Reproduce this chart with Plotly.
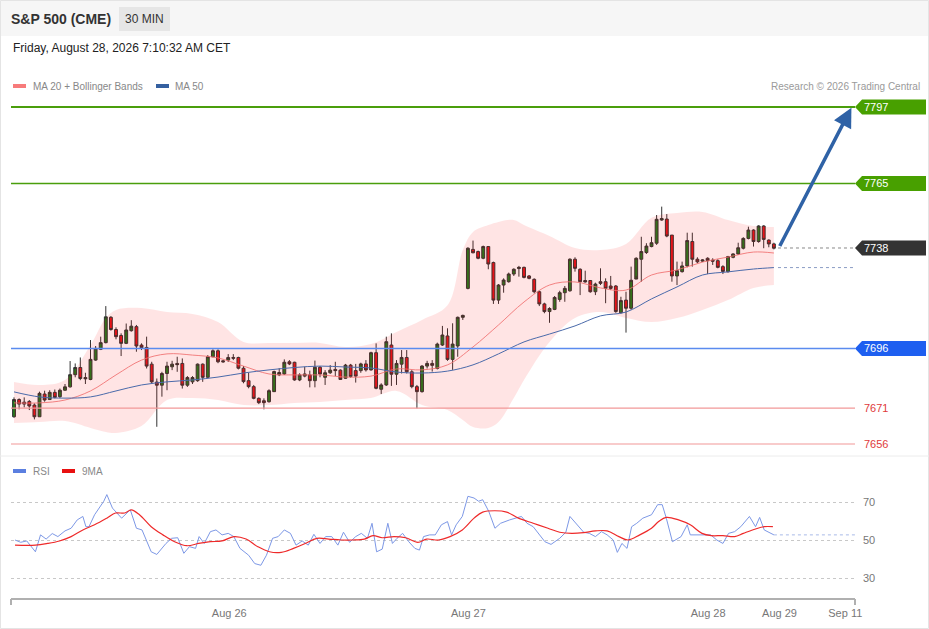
import plotly.graph_objects as go

# ---------------- data ----------------
candle_idx = list(range(150))
opens = [7667.4,7674.6,7673.5,7673.8,7672.3,7667.4,7676.9,7674.6,7677.6,7675.8,
         7678.5,7679.9,7685.0,7688.0,7683.8,7683.0,7691.1,7695.6,7698.4,7709.0,
         7703.9,7701.4,7698.1,7703.4,7705.1,7697.4,7696.4,7689.4,7681.9,7680.6,
         7685.5,7688.3,7689.7,7689.7,7680.6,7682.0,7682.5,7689.4,7683.9,7692.5,
         7695.0,7690.8,7691.1,7692.2,7692.2,7687.7,7682.5,7680.0,7675.1,7674.1,
         7673.7,7677.9,7684.9,7685.3,7690.4,7690.2,7682.8,7684.4,7684.9,7682.5,
         7688.1,7683.9,7685.8,7687.2,7686.9,7683.5,7689.0,7686.7,7686.7,7689.5,
         7687.0,7694.2,7678.9,7680.7,7697.4,7685.2,7689.4,7692.2,7686.2,7680.0,
         7677.9,7688.6,7689.7,7687.6,7697.4,7701.2,7691.4,7697.0,7709.0,7721.1,
         7737.4,7736.5,7733.7,7738.6,7731.9,7716.2,7722.5,7723.9,7727.1,7729.4,
         7729.9,7726.3,7724.9,7719.7,7714.6,7711.4,7712.3,7716.5,7719.3,7720.1,
         7733.3,7729.1,7724.4,7724.4,7719.7,7723.9,7723.9,7722.1,7722.1,7710.9,
         7716.2,7712.8,7725.0,7733.3,7736.1,7738.6,7740.0,7749.7,7750.1,7743.4,
         7726.3,7728.1,7730.5,7740.7,7733.3,7732.5,7733.7,7732.9,7732.7,7730.2,
         7728.1,7734.1,7735.5,7737.9,7742.0,7745.5,7740.7,7747.2,7741.3,7739.7]
highs = [7675.5,7675.1,7675.5,7674.4,7673.0,7677.9,7678.3,7678.5,7678.8,7679.2,
         7681.1,7690.7,7689.7,7692.2,7685.8,7699.5,7697.0,7700.9,7713.7,7709.5,
         7704.8,7702.3,7706.4,7707.8,7705.8,7698.1,7700.9,7690.4,7683.4,7686.2,
         7690.4,7690.8,7692.5,7691.8,7684.4,7684.4,7689.7,7689.7,7693.2,7695.6,
         7695.6,7691.1,7693.6,7693.6,7692.5,7688.6,7685.8,7680.7,7675.5,7675.1,
         7678.9,7686.7,7687.7,7691.4,7691.1,7690.4,7685.6,7688.3,7686.7,7690.9,
         7688.6,7686.9,7689.0,7690.4,7687.2,7689.5,7689.5,7689.5,7690.0,7691.1,
         7694.6,7698.1,7681.4,7700.9,7702.3,7691.1,7695.3,7695.3,7686.9,7680.7,
         7689.0,7690.8,7691.1,7698.4,7705.4,7704.4,7706.5,7709.3,7710.1,7738.3,
         7741.1,7736.9,7739.0,7738.8,7732.3,7722.9,7725.3,7727.7,7729.5,7730.5,
         7730.2,7726.7,7725.3,7720.1,7715.1,7713.2,7717.9,7720.1,7722.1,7733.7,
         7734.1,7729.5,7728.5,7724.6,7723.5,7729.5,7725.3,7726.3,7722.5,7717.6,
         7719.7,7730.2,7734.1,7742.7,7740.0,7742.7,7751.8,7755.3,7752.2,7743.4,
         7732.3,7732.3,7744.4,7744.4,7734.1,7733.3,7734.1,7733.7,7733.3,7730.8,
         7734.7,7735.8,7740.2,7742.5,7746.9,7745.8,7747.5,7747.5,7741.6,7740.2]
lows = [7667.0,7670.5,7671.3,7670.2,7666.3,7667.4,7673.7,7674.4,7675.1,7675.3,
        7678.3,7679.6,7683.9,7682.7,7681.1,7682.7,7690.8,7695.3,7698.1,7703.4,
        7699.8,7692.8,7697.8,7703.0,7694.6,7695.3,7687.6,7681.3,7663.2,7675.8,
        7678.5,7686.9,7686.2,7679.2,7679.9,7681.1,7682.0,7682.0,7683.5,7692.3,
        7689.8,7690.0,7690.3,7691.1,7687.2,7681.4,7679.3,7674.7,7672.7,7670.5,
        7673.3,7677.8,7684.4,7684.9,7689.0,7682.5,7682.3,7683.9,7679.7,7679.7,
        7683.9,7680.7,7685.3,7684.4,7682.8,7683.2,7683.7,7681.7,7685.8,7686.3,
        7686.7,7678.9,7676.9,7680.3,7680.3,7680.7,7685.5,7685.5,7679.3,7670.9,
        7677.5,7687.6,7686.3,7687.2,7697.0,7690.8,7687.0,7692.5,7707.9,7720.7,
        7735.8,7733.3,7733.3,7729.1,7714.6,7714.6,7719.3,7723.5,7726.3,7726.0,
        7725.3,7724.9,7719.0,7713.7,7710.7,7706.7,7712.0,7715.5,7715.5,7719.7,
        7728.1,7718.3,7723.5,7719.3,7718.3,7722.5,7714.9,7720.4,7710.9,7710.7,
        7702.6,7712.2,7726.3,7723.9,7735.5,7738.3,7739.3,7749.4,7742.5,7723.9,
        7722.5,7727.7,7729.9,7730.2,7731.6,7732.1,7727.1,7730.9,7729.5,7727.1,
        7727.7,7733.7,7735.1,7737.4,7741.6,7738.6,7740.2,7737.9,7738.3,7737.4]
closes = [7674.6,7672.7,7672.7,7671.9,7667.4,7677.2,7674.4,7677.6,7675.5,7678.5,
          7679.9,7685.0,7688.0,7683.4,7683.3,7691.4,7696.0,7698.4,7709.2,7703.9,
          7700.9,7698.1,7703.7,7705.3,7697.0,7696.3,7688.6,7682.0,7680.6,7685.5,
          7688.6,7689.4,7689.2,7680.6,7683.8,7683.8,7689.4,7683.9,7692.5,7695.0,
          7690.4,7690.4,7692.2,7691.9,7687.7,7682.1,7680.0,7675.1,7673.3,7673.3,
          7678.3,7686.3,7685.9,7690.2,7689.5,7682.8,7684.9,7685.3,7682.5,7688.1,
          7685.3,7685.8,7686.9,7686.7,7683.0,7689.0,7684.2,7684.4,7689.5,7687.0,
          7694.2,7679.3,7680.7,7698.8,7685.2,7689.7,7692.2,7686.2,7680.0,7677.9,
          7688.6,7689.7,7688.9,7697.8,7701.6,7691.4,7697.8,7709.0,7709.8,7737.9,
          7736.0,7733.7,7738.6,7731.3,7716.2,7722.5,7724.6,7727.1,7729.1,7729.9,
          7725.7,7725.3,7719.7,7714.6,7711.4,7712.7,7717.3,7719.3,7721.1,7733.3,
          7729.5,7723.9,7723.8,7719.7,7722.9,7723.2,7721.1,7721.1,7711.4,7716.0,
          7712.8,7724.5,7733.7,7736.5,7738.8,7740.2,7750.0,7750.3,7743.0,7726.3,
          7728.5,7730.5,7741.1,7733.3,7732.2,7733.0,7732.7,7732.5,7729.9,7728.2,
          7734.4,7735.5,7738.1,7742.0,7745.5,7740.7,7747.2,7741.6,7739.7,7737.9]

# Bollinger bands (read at these candle positions)
band_idx = [0,5,10,15,18,20,25,30,35,40,45,50,55,60,65,70,75,80,85,88,90,93,95,98,
            100,105,110,115,120,125,130,135,140,145,149]
band_upper = [7681.9,7680.7,7682.8,7697.4,7708.7,7712.1,7712.9,7711.2,7710.4,7707.0,
              7698.7,7698.3,7698.3,7698.3,7696.6,7697.8,7702.9,7707.9,7714.0,7737.2,
              7744.7,7747.6,7748.9,7749.7,7747.6,7743.0,7738.0,7737.2,7739.7,7750.6,
              7752.6,7753.1,7749.7,7747.2,7746.8]
band_lower = [7664.8,7665.2,7665.6,7662.7,7661.0,7660.6,7663.5,7674.4,7675.2,7674.4,
              7672.3,7672.3,7673.2,7673.6,7674.4,7675.2,7678.2,7672.3,7670.2,7666.0,
              7663.1,7662.7,7665.2,7675.2,7682.8,7698.7,7708.7,7711.2,7708.7,7707.0,
              7708.7,7712.1,7716.2,7721.3,7722.5]

ma_idx = [0,5,10,15,20,25,30,35,40,45,50,55,60,65,70,75,80,85,90,95,100,105,110,115,
          120,125,130,135,140,145,149]
ma20 = [7673.2,7673.2,7674.4,7678.2,7684.9,7691.1,7693.7,7693.2,7692.0,7688.6,
        7685.3,7684.9,7684.9,7684.0,7684.4,7687.4,7687.0,7689.1,7696.6,7705.8,
        7715.4,7722.5,7723.8,7721.3,7720.4,7726.7,7728.8,7732.1,7734.2,7736.3,7735.9]
ma50 = [7677.8,7675.7,7675.2,7675.7,7678.2,7680.7,7682.0,7682.8,7684.0,7685.7,
        7687.0,7688.0,7688.6,7688.2,7687.8,7686.1,7685.7,7686.5,7689.1,7693.7,
        7698.7,7702.0,7705.4,7709.6,7711.2,7716.7,7721.7,7726.7,7728.0,7729.2,7729.8]

rsi_idx = [0.2,1.3,2.5,4.2,5.2,6.3,7.5,8.6,10.0,11.2,
           12.4,13.5,14.1,14.7,15.8,17.0,17.6,18.2,19.3,21.1,
           22.8,24.0,25.1,26.9,28.0,29.8,30.9,32.1,33.3,34.4,
           35.6,36.3,37.3,38.5,39.6,40.8,42.0,43.1,44.3,46.0,
           47.2,48.4,49.5,50.7,51.8,53.0,54.2,55.3,56.5,57.7,
           58.8,60.0,61.1,62.3,63.5,64.6,65.8,67.0,68.1,69.3,
           70.2,71.1,72.2,73.3,74.2,75.1,76.2,77.4,78.6,79.5,
           80.3,81.5,82.6,83.8,85.0,85.8,86.7,87.9,89.0,90.2,
           91.1,91.9,93.1,94.3,95.4,97.2,99.5,100.6,101.8,104.1,
           105.3,107.0,108.2,109.0,110.5,111.7,112.8,114.0,115.2,116.3,
           117.5,118.3,119.2,120.2,121.1,122.1,123.3,125.0,126.2,127.1,
           127.9,129.1,130.8,132.0,132.6,134.3,136.6,137.8,139.0,140.1,
           141.3,142.5,144.2,145.4,146.2,147.1,149.0]
rsi_val = [50,48.8,49.5,43.8,52.7,50.5,53.4,51.8,54.8,56.2,
           60.6,62.4,57,57,63.3,67.7,70.4,73.9,66.8,61.5,
           65.9,56.2,55.3,43.8,42.4,48.2,50.9,51.2,43,46.5,
           45.6,51.8,48.2,54.4,55.3,52.7,53.5,51.8,45.6,42,
           37.6,36.7,42,50.9,51.8,55.3,53.5,47.3,49.5,47.3,
           53,48.2,51.8,51.8,47.3,54.1,48.8,51.8,53.5,50.9,
           58.8,43.8,45.2,58.8,48.2,50.9,53.5,49.1,45.6,44.7,
           51.8,52.7,52.7,58,59.7,52.7,58,62.4,73,72.1,
           70.4,71.2,65,56.2,58.8,60.6,62.4,58.8,57,49.1,
           47.7,50.9,54.1,62.4,58,54.1,53.5,51.8,54.4,52.7,
           50,43.5,48.2,45.6,57,58.8,61.5,63.3,68.6,68.6,
           61.5,49.1,51.8,58,52.7,52.7,52.7,50,48.2,53.5,
           54.4,57,62.4,57,61.9,55.3,52.7]

ma9_idx = [0.2,4.2,6.6,8.9,11.2,13.5,15.8,18.2,19.9,21.7,
           23.0,24.6,26.9,29.2,31.5,33.9,36.2,38.5,40.8,43.1,
           45.5,47.8,50.1,52.4,54.8,57.1,59.4,61.7,64.1,66.4,
           68.7,70.4,72.2,74.5,76.8,79.2,80.9,83.2,85.5,87.9,
           90.2,91.9,94.3,96.6,98.9,101.8,104.7,107.0,109.4,111.7,
           114.0,116.3,118.6,120.4,122.7,125.0,126.4,127.9,130.3,132.6,
           134.9,136.7,139.0,141.3,143.0,145.4,147.1,148.8]
ma9_val = [47.3,47.3,48.2,49.5,51.8,55.3,58,61.5,64.2,64.2,
           65.9,63.3,57,52.7,49.1,47,48.2,49.1,49.5,51.8,
           50.5,46.5,43.8,43.5,45.6,48.2,50.9,50.5,50,50,
           50.5,52.3,51.2,51.8,51.2,48.8,50.5,50,51.8,55.3,
           61.5,64.7,65.4,64.7,61.5,58.8,56.2,54.1,53.5,53.9,
           54.8,54.8,51.8,50,52.7,56.2,59.7,61.9,60.6,58,
           53.5,52.3,52.3,51.8,53.5,55.8,57,57]

# price levels
level_prices = [7797, 7765, 7738, 7696, 7671, 7656]
target_price = 7797

tick_pos = [42.2, 89.1, 136.1, 150.1, 163.0]
tick_text = ["Aug 26", "Aug 27", "Aug 28", "Aug 29", "Sep 11"]
rsi_levels = [30, 50, 70]

# ---------------- layout geometry ----------------
W, H = 929, 629
ML, MR, MT, MB = 11, 74, 95, 30
PW, PH = W - ML - MR, H - MT - MB
FONT = "Liberation Sans, Arial, sans-serif"

def pxx(x):
    return (x - ML) / PW

def pxy(y):
    return (H - MB - y) / PH

XR = [-0.59, 164.9]
last = candle_idx[-1]

fig = go.Figure()

# Bollinger band fill
fig.add_trace(go.Scatter(x=band_idx, y=band_lower, mode="lines",
                         line=dict(width=0, shape="spline"), hoverinfo="skip",
                         showlegend=False))
fig.add_trace(go.Scatter(x=band_idx, y=band_upper, mode="lines", fill="tonexty",
                         fillcolor="rgba(255,0,0,0.105)",
                         line=dict(width=0, shape="spline"), hoverinfo="skip",
                         showlegend=False))
# MA lines
fig.add_trace(go.Scatter(x=ma_idx, y=ma20, mode="lines",
                         line=dict(color="rgba(240,110,110,0.85)", width=1, shape="spline"),
                         hoverinfo="skip", showlegend=False))
fig.add_trace(go.Scatter(x=ma_idx, y=ma50, mode="lines",
                         line=dict(color="#4a6aaa", width=1, shape="spline"),
                         hoverinfo="skip", showlegend=False))
# dotted continuations
fig.add_trace(go.Scatter(x=[last + 0.8, XR[1]], y=[ma50[-1], ma50[-1]], mode="lines",
                         line=dict(color="#8a9cc4", width=1, dash="dot"),
                         hoverinfo="skip", showlegend=False))
fig.add_trace(go.Scatter(x=[last + 0.8, XR[1]], y=[level_prices[2], level_prices[2]],
                         mode="lines", line=dict(color="#888888", width=1, dash="dot"),
                         hoverinfo="skip", showlegend=False))

# candles
fig.add_trace(go.Candlestick(
    x=candle_idx, open=opens, high=highs, low=lows, close=closes,
    increasing=dict(line=dict(color="#333333", width=1), fillcolor="#1f7d1f"),
    decreasing=dict(line=dict(color="#333333", width=1), fillcolor="#e5161c"),
    whiskerwidth=0, showlegend=False, hoverinfo="skip"))

# RSI panel
fig.add_trace(go.Scatter(x=rsi_idx, y=rsi_val, mode="lines", xaxis="x2", yaxis="y2",
                         line=dict(color="#7d98e6", width=1), hoverinfo="skip",
                         showlegend=False))
fig.add_trace(go.Scatter(x=ma9_idx, y=ma9_val, mode="lines", xaxis="x2", yaxis="y2",
                         line=dict(color="#ee2a2a", width=1.2, shape="spline"),
                         hoverinfo="skip", showlegend=False))
fig.add_trace(go.Scatter(x=[rsi_idx[-1], XR[1]], y=[rsi_val[-1], rsi_val[-1]], mode="lines",
                         xaxis="x2", yaxis="y2",
                         line=dict(color="#a9bbe8", width=1, dash="dot"),
                         hoverinfo="skip", showlegend=False))

shapes = []
annotations = []
DX = -2  # annotation text offset correction (px)

# page frame and header
shapes.append(dict(type="rect", xref="paper", yref="paper", x0=pxx(0), x1=pxx(929),
                   y0=pxy(0), y1=pxy(36), fillcolor="#f6f6f6", line=dict(width=0),
                   layer="below"))
shapes.append(dict(type="rect", xref="paper", yref="paper", x0=pxx(119), x1=pxx(170),
                   y0=pxy(7), y1=pxy(31), fillcolor="#e6e6e6", line=dict(width=0),
                   layer="below"))
shapes.append(dict(type="rect", xref="paper", yref="paper", x0=pxx(0.5), x1=pxx(928.5),
                   y0=pxy(0.5), y1=pxy(628.5), line=dict(color="#e4e4e4", width=1),
                   layer="below"))
shapes.append(dict(type="line", xref="paper", yref="paper", x0=pxx(0), x1=pxx(929),
                   y0=pxy(456), y1=pxy(456), line=dict(color="#ececec", width=1)))

def txt(s, x, y, size, color, anchor="left"):
    return dict(text=s, x=pxx(x + (DX if anchor == "left" else -DX if anchor == "right" else 0)),
                y=pxy(y), xref="paper", yref="paper", xanchor=anchor, yanchor="middle",
                showarrow=False, font=dict(family=FONT, size=size, color=color))

annotations += [
    txt("<b>S&P 500 (CME)</b>", 11, 19, 14, "#333333"),
    txt("30 MIN", 144.5, 19, 12, "#333333", "center"),
    txt("Friday, August 28, 2026 7:10:32 AM CET", 13, 48, 12, "#222222"),
    txt("MA 20 + Bollinger Bands", 33, 86, 10, "#888888"),
    txt("MA 50", 175, 86, 10, "#888888"),
    txt("Research © 2026 Trading Central", 920, 86, 10, "#9a9a9a", "right"),
    txt("RSI", 33, 471, 10, "#888888"),
    txt("9MA", 82, 471, 10, "#888888"),
]
# legend swatches
for x0, x1, yy, col in [(13, 26, 86, "#f77b7b"), (156, 169, 86, "#3560a0"),
                        (13, 26, 471, "#5b7fe0"), (62, 75, 471, "#e81010")]:
    shapes.append(dict(type="rect", xref="paper", yref="paper", x0=pxx(x0), x1=pxx(x1),
                       y0=pxy(yy + 2), y1=pxy(yy - 2), fillcolor=col, line=dict(width=0)))

# price level lines
level_style = {
    7797: dict(color="#4a9e0c", width=2),
    7765: dict(color="#4a9e0c", width=1.6),
    7696: dict(color="#5a8bef", width=1.5),
    7671: dict(color="#f29898", width=1.2),
    7656: dict(color="#f29898", width=1.2),
}
for p, st in level_style.items():
    shapes.append(dict(type="line", xref="paper", yref="y", x0=0, x1=1, y0=p, y1=p,
                       line=st))

# right-hand tags
tag_colors = {7797: "#48a000", 7765: "#48a000", 7738: "#333333", 7696: "#1e5ff0"}
tip = 7 / PW
xr = pxx(926)
hh = 7.5 / (360 / (7802.0 - 7651.4))
for p, col in tag_colors.items():
    path = (f"M 1,{p} L {1 + tip},{p + hh} L {xr},{p + hh} L {xr},{p - hh} "
            f"L {1 + tip},{p - hh} Z")
    shapes.append(dict(type="path", xref="paper", yref="y", path=path, fillcolor=col,
                       line=dict(width=0)))
    annotations.append(dict(text=str(p), x=pxx(864 + DX), y=p, xref="paper", yref="y",
                            xanchor="left", yanchor="middle", showarrow=False,
                            font=dict(family=FONT, size=11, color="white")))
for p in [7671, 7656]:
    annotations.append(dict(text=str(p), x=pxx(864 + DX), y=p, xref="paper", yref="y",
                            xanchor="left", yanchor="middle", showarrow=False,
                            font=dict(family=FONT, size=11, color="#e03a3a")))

# forecast arrow
annotations.append(dict(x=164.2, y=target_price - 0.3, xref="x", yref="y",
                        ax=last + 1.0, ay=closes[-1] + 0.3, axref="x", ayref="y",
                        showarrow=True, arrowhead=2, arrowsize=1.1, arrowwidth=3.5,
                        arrowcolor="#2f62a6", text="", standoff=0, startstandoff=0))

# bottom axis line with end ticks
shapes.append(dict(type="line", xref="paper", yref="paper", x0=0, x1=1, y0=0, y1=0,
                   line=dict(color="#b0b0b0", width=2)))
for xe in [0, 1]:
    shapes.append(dict(type="line", xref="paper", yref="paper", x0=xe, x1=xe,
                       y0=0, y1=pxy(605), line=dict(color="#b0b0b0", width=2)))

fig.update_layout(
    width=W, height=H, margin=dict(l=ML, r=MR, t=MT, b=MB),
    paper_bgcolor="white", plot_bgcolor="white",
    font=dict(family=FONT, size=11, color="#777777"),
    showlegend=False, hovermode=False,
    xaxis=dict(domain=[0, 1], range=XR, anchor="y", visible=False,
               rangeslider=dict(visible=False), fixedrange=True),
    yaxis=dict(domain=[pxy(455), 1], range=[7651.4, 7802.0], visible=False,
               fixedrange=True),
    xaxis2=dict(domain=[0, 1], range=XR, anchor="y2", matches="x", showgrid=False,
                zeroline=False, showline=False, tickmode="array", tickvals=tick_pos,
                ticktext=tick_text, ticks="", ticklabelstandoff=6,
                tickfont=dict(family=FONT, size=11, color="#777777")),
    yaxis2=dict(domain=[0, pxy(482)], range=[18.95, 80.53], anchor="x2", side="right",
                tickmode="array", tickvals=rsi_levels, ticks="", showline=False,
                zeroline=False, showgrid=True, gridcolor="#c8c8c8", griddash="dot",
                gridwidth=1, ticklabelstandoff=7,
                tickfont=dict(family=FONT, size=11, color="#777777")),
    shapes=shapes, annotations=annotations,
    boxgap=0.2,
)

fig.write_html("out.html", config={"displayModeBar": False},
               post_script="document.body.style.margin='0px';")
